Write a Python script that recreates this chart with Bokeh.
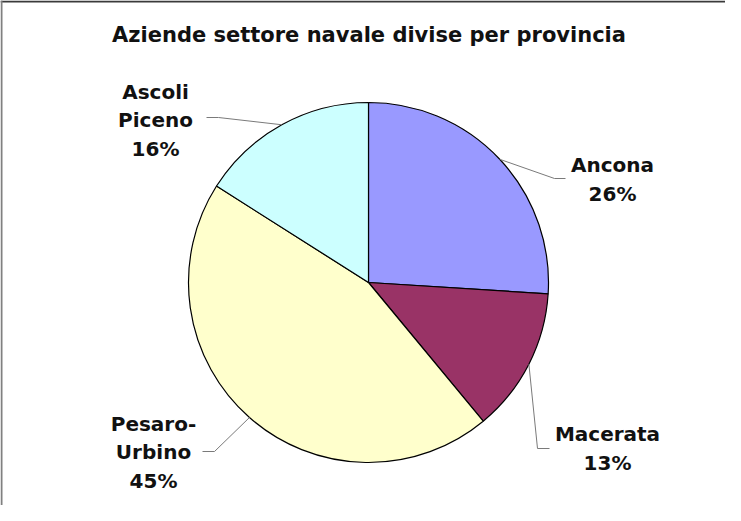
import numpy as np
from bokeh.plotting import figure
from bokeh.models import Range1d, Span, ColumnDataSource
from bokeh.core.properties import value
from bokeh.embed import file_html
from bokeh.resources import INLINE

# ---------------- data ----------------
chart_title = "Aziende settore navale divise per provincia"
provinces = ["Ancona", "Macerata", "Pesaro-Urbino", "Ascoli Piceno"]
label_names = ["Ancona", "Macerata", "Pesaro-\nUrbino", "Ascoli\nPiceno"]
shares = [26, 13, 45, 16]
colors = ["#9999FF", "#993366", "#FFFFCC", "#CCFFFF"]

# ---------------- layout (pixels of the figure, y measured up) ----------------
W, H = 725, 505
CX, CY, R = 368, 223, 180
label_xy = [(612, 326), (607, 57), (153, 53), (155, 385)]
elbow_xy = [(554, 327), (537, 57), (214, 54), (218, 388)]
end_xy = [(565, 327), (549, 57), (202, 54), (206, 388)]

vals = np.array(shares, dtype=float)
frac = vals / vals.sum()
cum_end = np.cumsum(frac)
cum_start = cum_end - frac
start_deg = 90 - 360 * cum_end
end_deg = 90 - 360 * cum_start
mid_rad = np.deg2rad((start_deg + end_deg) / 2)

p = figure(width=W, height=H, output_backend="svg", toolbar_location=None,
           x_range=Range1d(0, W), y_range=Range1d(0, H), min_border=0)
p.axis.visible = False
p.xgrid.visible = False
p.ygrid.visible = False
p.outline_line_color = None
p.background_fill_color = "white"
p.border_fill_color = "white"

src = ColumnDataSource(dict(start=start_deg, end=end_deg, color=colors, name=provinces))
p.wedge(x=CX, y=CY, radius=R, start_angle="start", end_angle="end",
        start_angle_units="deg", end_angle_units="deg",
        fill_color="color", line_color="black", line_width=1.2, source=src)

# leader lines
for i in range(len(shares)):
    ax = CX + R * np.cos(mid_rad[i])
    ay = CY + R * np.sin(mid_rad[i])
    p.line(x=[ax, elbow_xy[i][0], end_xy[i][0]], y=[ay, elbow_xy[i][1], end_xy[i][1]],
           line_color="#7a7a7a", line_width=1)

labels = [f"{n}\n{s}%" for n, s in zip(label_names, shares)]
p.text(x=[xy[0] for xy in label_xy], y=[xy[1] for xy in label_xy], text=labels,
       text_font=value("DejaVu Sans"), text_font_style="bold", text_font_size="20px",
       text_align="center", text_baseline="middle", text_line_height=1.2,
       text_color="#111111")

p.text(x=[368.5], y=[471], text=[chart_title], text_font=value("DejaVu Sans"),
       text_font_style="bold", text_font_size="21px", text_align="center",
       text_baseline="middle", text_color="#111111")

# frame lines (top and left edges of the chart area)
p.add_layout(Span(location=H - 1, dimension="width", line_color="#3a3a3a", line_width=2))
p.add_layout(Span(location=1, dimension="height", line_color="#808080", line_width=2))

open("out.html", "w").write(file_html(p, INLINE))
